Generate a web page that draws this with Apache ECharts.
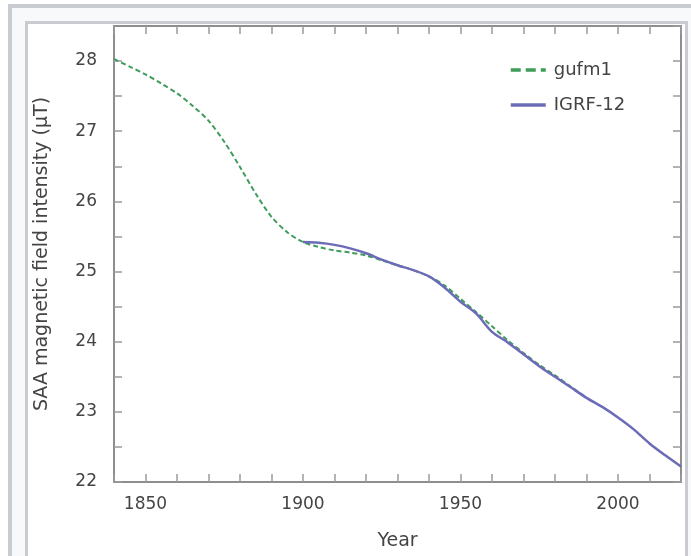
<!DOCTYPE html>
<html>
<head>
<meta charset="utf-8">
<script src="https://cdn.jsdelivr.net/npm/echarts@6/dist/echarts.min.js"></script>
<style>
  html, body { margin: 0; padding: 0; width: 691px; height: 556px; overflow: hidden; background: #fff; }
  #outer { position: absolute; left: 8px; top: 4px; width: 800px; height: 700px; border: 4px solid #c8ccd1; background: #f8f9fa; }
  #inner { position: absolute; left: 25px; top: 21px; width: 657px; height: 700px; border: 3px solid #c8ccd1; background: #fff; }
  #chart { position: absolute; left: 0; top: 0; width: 691px; height: 556px; }
</style>
</head>
<body>
<div id="outer"></div>
<div id="inner"></div>
<div id="chart"></div>
<script>
// ---- data ----
const gufmYears = [1840,1845,1850,1855,1860,1865,1870,1875,1880,1885,1890,1895,1900,1905,1910,1915,1920,1925,1930,1935,1940,1945,1950,1955,1960,1965,1970,1975,1980,1985,1990];
const gufmValues = [28.03,27.92,27.81,27.68,27.54,27.36,27.15,26.85,26.49,26.11,25.78,25.56,25.42,25.35,25.30,25.27,25.23,25.16,25.09,25.02,24.93,24.80,24.61,24.42,24.22,24.02,23.84,23.67,23.52,23.36,23.20];

const igrfYears = [1900,1905,1910,1915,1920,1925,1930,1935,1940,1945,1950,1955,1960,1965,1970,1975,1980,1985,1990,1995,2000,2005,2010,2015,2020];
const igrfValues = [25.42,25.41,25.38,25.33,25.26,25.17,25.09,25.02,24.93,24.77,24.57,24.40,24.14,23.99,23.82,23.65,23.50,23.35,23.20,23.07,22.92,22.75,22.55,22.38,22.22];

const xTickLabels = [1850, 1900, 1950, 2000];
const yTickLabels = [22, 23, 24, 25, 26, 27, 28];
const seriesNames = ['gufm1', 'IGRF-12'];
const xName = 'Year';
const yName = 'SAA magnetic field intensity (\u03BCT)';

// ---- chart ----
const axisColor = '#8e8e8e';
const textColor = '#444';
const font = 'DejaVu Sans';
const green = '#3f9d5a';
const blue = '#6b6bb8';

function pairs(xs, ys) { return xs.map((x, i) => [x, ys[i]]); }

const baseX = {
  type: 'value', min: 1840, max: 2020, interval: 10,
  axisLine: { show: true, onZero: false, lineStyle: { color: axisColor, width: 2 } },
  axisTick: { show: true, inside: true, length: 8, lineStyle: { color: '#9a9a9a', width: 1.5 } },
  splitLine: { show: false }
};
const baseY = {
  type: 'value', min: 22, max: 28.5, interval: 0.5,
  axisLine: { show: true, onZero: false, lineStyle: { color: axisColor, width: 2 } },
  axisTick: { show: true, inside: true, length: 8, lineStyle: { color: '#9a9a9a', width: 1.5 } },
  splitLine: { show: false }
};

const chart = echarts.init(document.getElementById('chart'), null, { renderer: 'canvas' });
chart.setOption({
  backgroundColor: 'transparent',
  animation: false,
  grid: { left: 114, right: 10, top: 26, bottom: 74, containLabel: false },
  legend: {
    orient: 'vertical', left: 504, top: 56,
    itemWidth: 35, itemHeight: 18, itemGap: 17,
    itemStyle: { opacity: 0, color: 'transparent', borderWidth: 0 },
    data: [
      { name: seriesNames[0], lineStyle: { color: green, width: 3.5, type: [10, 5] } },
      { name: seriesNames[1], lineStyle: { color: blue, width: 3.5, type: 'solid' } }
    ],
    textStyle: { fontFamily: font, fontSize: 18, color: textColor, padding: [0, 0, 0, 3] }
  },
  xAxis: [
    Object.assign({}, baseX, {
      position: 'bottom',
      name: xName, nameLocation: 'middle', nameGap: 50,
      nameTextStyle: { fontFamily: font, fontSize: 19, color: textColor },
      axisLabel: {
        show: true, margin: 14, fontFamily: font, fontSize: 17, color: textColor,
        formatter: v => (xTickLabels.indexOf(v) >= 0 ? String(v) : '')
      }
    }),
    Object.assign({}, baseX, { position: 'top', axisLabel: { show: false } })
  ],
  yAxis: [
    Object.assign({}, baseY, {
      position: 'left',
      name: yName, nameLocation: 'middle', nameGap: 62, nameRotate: 90,
      nameTextStyle: { fontFamily: font, fontSize: 19, color: textColor },
      axisLabel: {
        show: true, margin: 17, fontFamily: font, fontSize: 17, color: textColor,
        showMaxLabel: false,
        formatter: v => (yTickLabels.indexOf(v) >= 0 ? String(v) : '')
      }
    }),
    Object.assign({}, baseY, { position: 'right', axisLabel: { show: false } })
  ],
  series: [
    {
      name: seriesNames[0], type: 'line', xAxisIndex: 0, yAxisIndex: 0,
      data: pairs(gufmYears, gufmValues),
      symbol: 'none', smooth: 0.3, z: 2,
      lineStyle: { color: green, width: 2, type: [5, 3] },
      itemStyle: { color: green }
    },
    {
      name: seriesNames[1], type: 'line', xAxisIndex: 0, yAxisIndex: 0,
      data: pairs(igrfYears, igrfValues),
      symbol: 'none', smooth: 0.3, z: 3,
      lineStyle: { color: blue, width: 2.5 },
      itemStyle: { color: blue }
    }
  ]
});
</script>
</body>
</html>
